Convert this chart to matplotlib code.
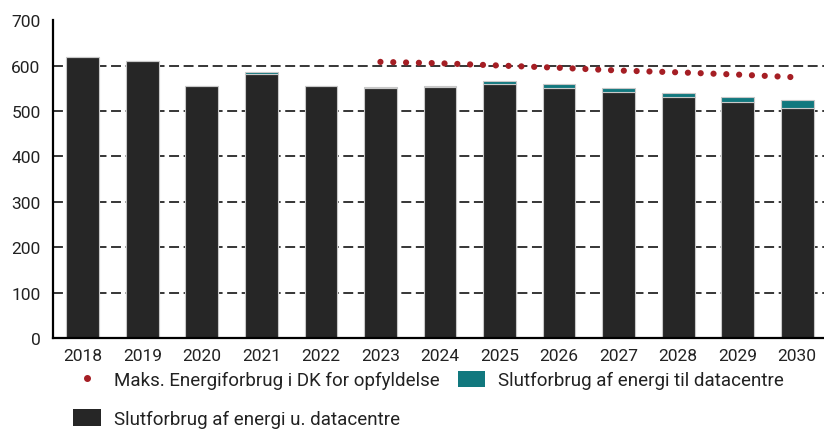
import matplotlib.pyplot as plt
from matplotlib.lines import Line2D
from matplotlib.patches import Patch

plt.rcParams['font.family'] = ['Roboto', 'DejaVu Sans']

# Data
years = ['2018', '2019', '2020', '2021', '2022', '2023', '2024',
         '2025', '2026', '2027', '2028', '2029', '2030']
uden_dc = [618, 610, 556, 582, 554, 551, 553, 559, 550, 542, 531, 519, 507]
datacentre = [0, 0, 0, 3, 2, 2, 3, 6, 9, 9, 8, 12, 18]
maks_years = ['2023', '2024', '2025', '2026', '2027', '2028', '2029', '2030']
maks_values = [608, 605, 600, 595, 589, 585, 580, 574]

c_black = '#262626'
c_teal = '#11787e'
c_red = '#a51e24'

fig = plt.figure(figsize=(8.24, 4.31), dpi=100)
ax = fig.add_axes([0.0643, 0.2135, 0.9357, 0.7375])

x = list(range(len(years)))
ax.bar(x, uden_dc, width=0.55, color=c_black, edgecolor='#c8c8c8', linewidth=0.8, zorder=2)
ax.bar(x, datacentre, bottom=uden_dc, width=0.55, color=c_teal, edgecolor='#c8c8c8',
       linewidth=0.8, zorder=2)

mx = [years.index(y) for y in maks_years]
ax.plot(mx, maks_values, color=c_red, linewidth=4.5, linestyle=(0, (0.001, 2.05)),
        dash_capstyle='round', zorder=3)

# stiplede gitterlinjer
for v in range(100, 700, 100):
    ax.axhline(v, color='black', linewidth=1.1, linestyle=(0, (6.5, 3)), zorder=1)

ax.set_ylim(0, 700)
ax.set_xlim(-0.5, 12.45)
ax.set_yticks(range(0, 701, 100))
ax.set_xticks(x)
ax.set_xticklabels(years)
ax.tick_params(axis='both', length=0, labelsize=12.5, colors='#222222')
ax.tick_params(axis='y', pad=9)
ax.tick_params(axis='x', pad=7)
for s in ['top', 'right']:
    ax.spines[s].set_visible(False)
ax.spines['left'].set_linewidth(1.6)
ax.spines['bottom'].set_linewidth(1.6)

handles = [
    Line2D([], [], color=c_red, marker='o', markersize=4, linestyle='none'),
    Patch(facecolor=c_black),
    Patch(facecolor=c_teal),
]
labels = ['Maks. Energiforbrug i DK for opfyldelse',
          'Slutforbrug af energi u. datacentre',
          'Slutforbrug af energi til datacentre']
fig.legend(handles, labels, ncol=2, loc='upper left', bbox_to_anchor=(0.089, 0.138),
           frameon=False, fontsize=13.5, handlelength=1.45, handleheight=1.0,
           handletextpad=0.7, columnspacing=1.0, labelspacing=1.05,
           borderaxespad=0, borderpad=0, labelcolor='#222222')

fig.savefig('out.png', dpi=100)
